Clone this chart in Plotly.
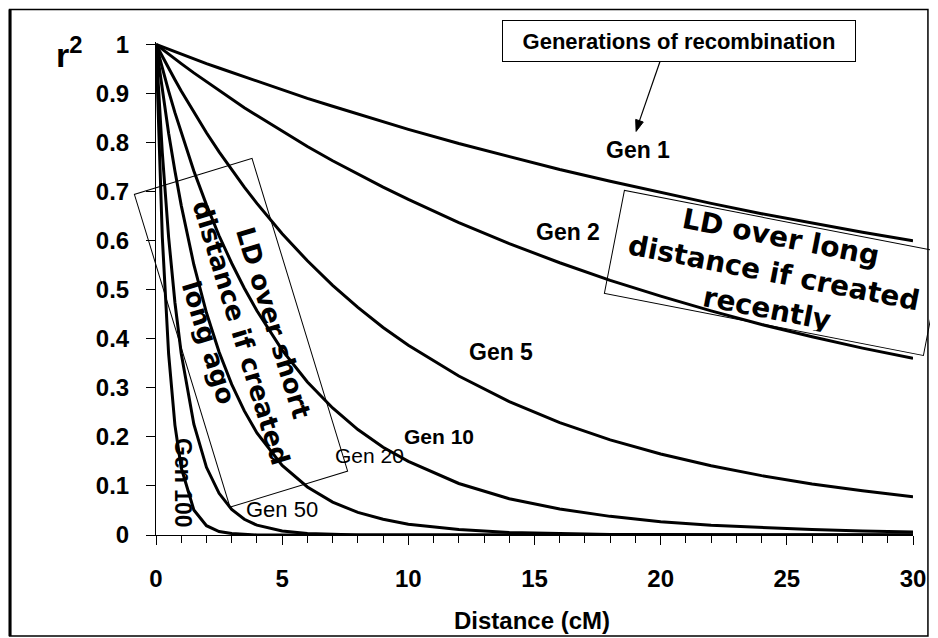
import plotly.graph_objects as go

# Distance (cM)
distance = [0, 0.25, 0.5, 0.75, 1, 1.5, 2, 2.5, 3, 3.5, 4, 5, 6, 7, 8, 9, 10,
            12, 14, 16, 18, 20, 22, 24, 26, 28, 30]

# r^2
gen1 = [1, 0.995, 0.990, 0.985, 0.980, 0.971, 0.961, 0.952, 0.943, 0.934, 0.925,
        0.907, 0.890, 0.874, 0.858, 0.842, 0.827, 0.798, 0.771, 0.745, 0.721,
        0.698, 0.676, 0.655, 0.636, 0.617, 0.600]
gen2 = [1, 0.990, 0.980, 0.971, 0.961, 0.942, 0.924, 0.906, 0.889, 0.871, 0.855,
        0.823, 0.792, 0.763, 0.736, 0.709, 0.684, 0.637, 0.594, 0.555, 0.519,
        0.487, 0.457, 0.429, 0.404, 0.381, 0.360]
gen5 = [1, 0.975, 0.951, 0.928, 0.905, 0.862, 0.820, 0.781, 0.744, 0.709, 0.676,
        0.614, 0.559, 0.509, 0.464, 0.423, 0.387, 0.324, 0.272, 0.229, 0.194,
        0.165, 0.141, 0.121, 0.104, 0.090, 0.078]
gen10 = [1, 0.951, 0.905, 0.861, 0.820, 0.742, 0.673, 0.610, 0.554, 0.503, 0.457,
         0.377, 0.312, 0.259, 0.215, 0.179, 0.150, 0.105, 0.074, 0.053, 0.038,
         0.027, 0.020, 0.015, 0.011, 0.008, 0.006]
gen20 = [1, 0.905, 0.819, 0.742, 0.672, 0.551, 0.453, 0.373, 0.307, 0.253, 0.208,
         0.142, 0.098, 0.067, 0.046, 0.032, 0.022, 0.011, 0.005, 0.003, 0.001,
         0.001, 0, 0, 0, 0, 0]
gen50 = [1, 0.779, 0.607, 0.474, 0.370, 0.226, 0.138, 0.085, 0.052, 0.032, 0.020,
         0.008, 0.003, 0.001, 0, 0, 0, 0, 0, 0, 0, 0, 0, 0, 0, 0, 0]
gen100 = [1, 0.607, 0.369, 0.224, 0.137, 0.051, 0.019, 0.007, 0.003, 0.001, 0,
          0, 0, 0, 0, 0, 0, 0, 0, 0, 0, 0, 0, 0, 0, 0, 0]

series = [("Gen 1", gen1), ("Gen 2", gen2), ("Gen 5", gen5), ("Gen 10", gen10),
          ("Gen 20", gen20), ("Gen 50", gen50), ("Gen 100", gen100)]

y_ticks = [0, 0.1, 0.2, 0.3, 0.4, 0.5, 0.6, 0.7, 0.8, 0.9, 1]
x_ticks = [0, 5, 10, 15, 20, 25, 30]

FONT = "Liberation Sans, Arial, Helvetica, sans-serif"
WIDE = "DejaVu Sans, Verdana, sans-serif"

fig = go.Figure()
for name, vals in series:
    fig.add_trace(go.Scatter(x=distance, y=vals, mode="lines", name=name,
                             line=dict(color="black", width=3), showlegend=False))

# page body has an 8px margin: figure is 930x630 so that it fills 938x638
fig.update_layout(
    width=930, height=630,
    margin=dict(l=148, r=22, t=33.5, b=103, pad=0),
    paper_bgcolor="white", plot_bgcolor="white",
    font=dict(family=FONT, color="black"),
)
fig.update_xaxes(range=[0, 30], tickvals=x_ticks, showgrid=False, zeroline=False,
                 showline=True, linecolor="black", linewidth=1,
                 ticks="outside", ticklen=9, tickcolor="black", tickwidth=1,
                 ticklabelstandoff=13,
                 minor=dict(dtick=1, ticks="outside", ticklen=7, tickcolor="black", showgrid=False),
                 tickfont=dict(family=FONT, size=24, color="black", weight="bold"))
fig.update_yaxes(range=[0, 1.005], tickvals=y_ticks, showgrid=False, zeroline=False,
                 showline=True, linecolor="black", linewidth=1,
                 ticks="outside", ticklen=9, tickcolor="black", tickwidth=1,
                 ticklabelstandoff=12,
                 tickfont=dict(family=FONT, size=24, color="black", weight="bold"))

# screen pixel -> paper fraction (plot area spans screen x 156..916, y 535..41.5)
def px2paper_x(px):
    return (px - 156) / 760.0

def px2paper_y(py):
    return (535 - py) / 493.5

# outer frame
fig.add_shape(type="rect", xref="paper", yref="paper",
              x0=px2paper_x(9), x1=px2paper_x(931), y0=px2paper_y(636), y1=px2paper_y(9),
              line=dict(color="black", width=1.5))
fig.add_shape(type="line", xref="paper", yref="paper",
              x0=px2paper_x(9.5), x1=px2paper_x(9.5), y0=px2paper_y(636), y1=px2paper_y(9),
              line=dict(color="black", width=3))

# arrow from the "Generations of recombination" box to the Gen 1 label
tail = (662, 61)
tip = (638, 131)
fig.add_shape(type="line", xref="paper", yref="paper",
              x0=px2paper_x(tail[0]), y0=px2paper_y(tail[1]),
              x1=px2paper_x(640.5), y1=px2paper_y(123),
              line=dict(color="black", width=1.2))
head = [tip, (645.2, 121.6), (637.6, 119.0)]
path = "M " + " L ".join(f"{px2paper_x(a):.5f},{px2paper_y(b):.5f}" for a, b in head) + " Z"
fig.add_shape(type="path", xref="paper", yref="paper", path=path,
              fillcolor="black", line=dict(color="black", width=1))

ann = []
# axis titles
ann.append(dict(text="r<sup>2</sup>", xref="paper", yref="paper",
                x=px2paper_x(69), y=px2paper_y(52), xanchor="center", yanchor="middle",
                showarrow=False, font=dict(size=34, family=FONT, weight="bold")))
ann.append(dict(text="Distance (cM)", xref="paper", yref="paper",
                x=px2paper_x(533), y=px2paper_y(621), xanchor="center", yanchor="middle",
                showarrow=False, font=dict(size=24, family=FONT, weight="bold")))

# generation labels
labels = [("Gen 1", 19.1, 0.784, "bold", 23, 0), ("Gen 2", 16.34, 0.617, "bold", 23, 0),
          ("Gen 5", 13.66, 0.373, "bold", 23, 0), ("Gen 10", 11.2, 0.200, "bold", 21, 0),
          ("Gen 20", 8.45, 0.162, "normal", 21, 0), ("Gen 50", 5.0, 0.053, "normal", 22, 0),
          ("Gen 100", 1.07, 0.106, "bold", 23, 90)]
for t, x, y, w, s, ang in labels:
    ann.append(dict(text=t, x=x, y=y, xref="x", yref="y", showarrow=False,
                    xanchor="center", yanchor="middle",
                    textangle=ang, font=dict(size=s, family=FONT, weight=w)))

# Generations of recombination box
ann.append(dict(text="Generations of recombination", xref="paper", yref="paper",
                x=px2paper_x(681), y=px2paper_y(40), xanchor="center", yanchor="middle",
                showarrow=False, width=340, height=28, borderpad=6,
                bordercolor="black", borderwidth=1,
                font=dict(size=22, family=FONT, weight="bold")))

# rotated boxes
ann.append(dict(text="LD over long<br>distance if created<br>recently",
                x=24.5, y=0.535, xref="x", yref="y", showarrow=False,
                xanchor="center", yanchor="middle",
                textangle=11, width=318, height=98, borderpad=3,
                bordercolor="black", borderwidth=1, bgcolor="rgba(0,0,0,0)",
                font=dict(size=28, family=WIDE, weight="bold")))
ann.append(dict(text="LD over short<br>distance if created<br>long ago",
                x=3.375, y=0.412, xref="x", yref="y", showarrow=False,
                xanchor="center", yanchor="middle",
                textangle=73, width=318, height=114, borderpad=4,
                bordercolor="black", borderwidth=1, bgcolor="rgba(0,0,0,0)",
                font=dict(size=26, family=WIDE, weight="bold")))

fig.update_layout(annotations=ann)
fig.write_html("out.html")
